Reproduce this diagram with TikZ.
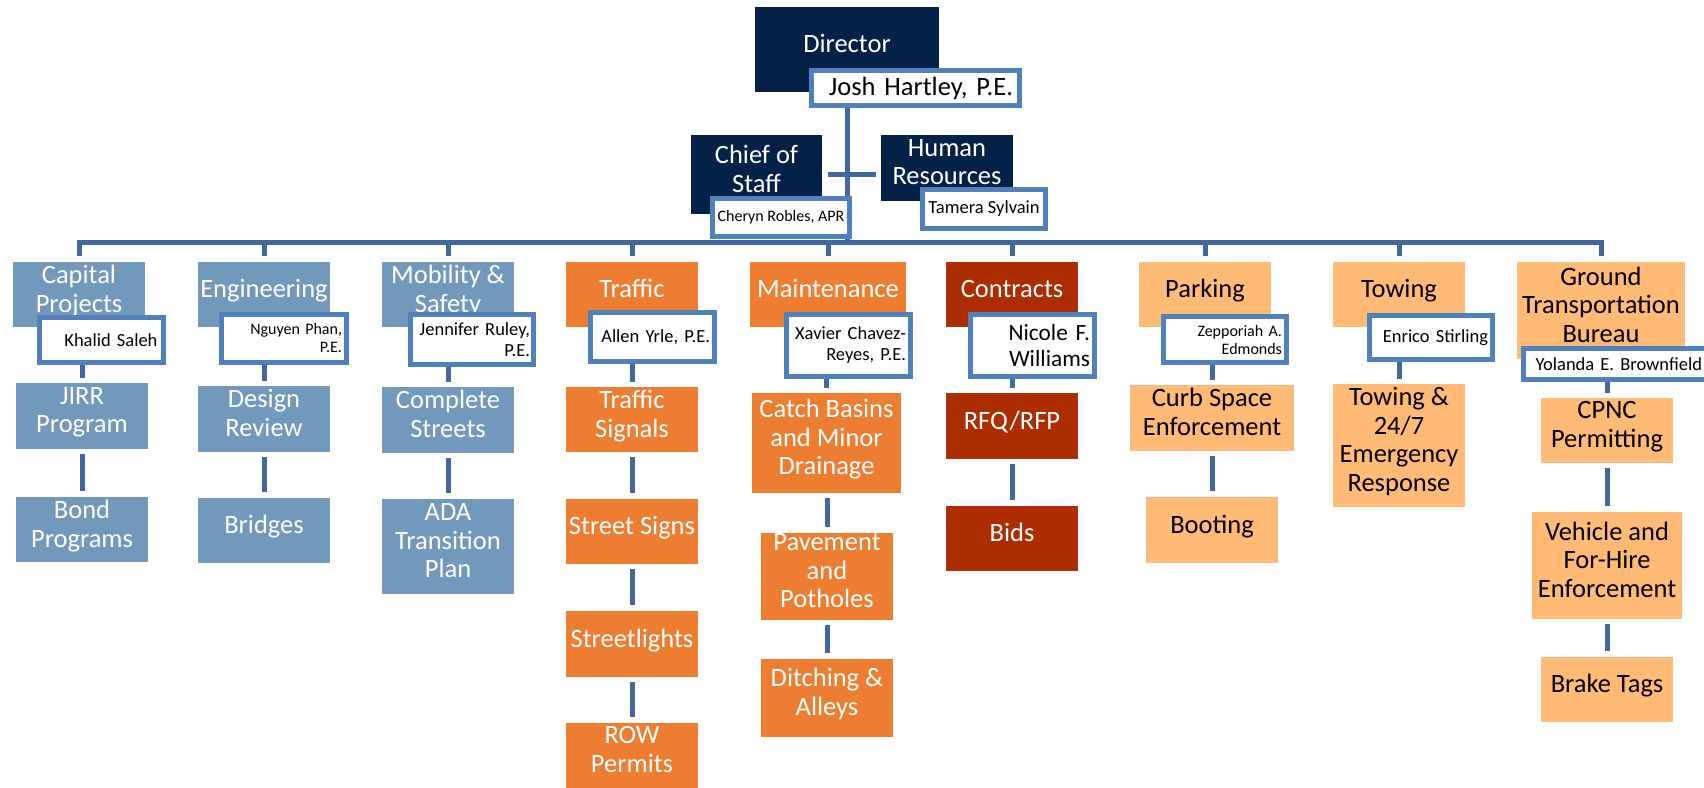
\documentclass[tikz,border=0pt]{standalone}
\usepackage{fontspec}
\setmainfont{Carlito}
\pgfdeclarelayer{background}
\pgfsetlayers{background,main}

\definecolor{navy}{RGB}{4,34,72}
\definecolor{steel}{RGB}{114,152,187}
\definecolor{traffico}{RGB}{237,125,49}
\definecolor{brick}{RGB}{173,45,2}
\definecolor{peach}{RGB}{255,186,117}
\definecolor{linkblue}{RGB}{65,104,158}
\definecolor{nameblue}{RGB}{80,129,189}

\newcommand{\unitfont}{\fontsize{26.5}{28.7}\selectfont}
\newcommand{\namesmall}{\fontsize{16}{18}\selectfont}
\newcommand{\namemid}{\fontsize{18.5}{21}\selectfont}
\newcommand{\namebig}{\fontsize{23.3}{26}\selectfont}

\begin{document}
\begin{tikzpicture}[x=1pt,y=-1pt,
	unit/.style={minimum width=132pt,minimum height=65pt,inner sep=0pt,align=center,font=\unitfont,text=white,
		execute at end node={\rule[-12pt]{0pt}{12pt}}},
	lead/.style={unit,fill=navy},
	civil/.style={unit,fill=steel},
	field/.style={unit,fill=traffico},
	purchasing/.style={unit,fill=brick},
	ops/.style={unit,fill=peach,text=black},
	head/.style={draw=nameblue,line width=5pt,fill=white,text=black,inner sep=0pt,minimum width=124pt,minimum height=45pt},
	link/.style={draw=linkblue,line width=5pt}]
			\useasboundingbox (0,0) rectangle (1704,787);
			\node[lead,minimum width=184pt,minimum height=85pt] (director) at (847,49.5) {Director};
			\node[head,minimum width=208pt,minimum height=35pt,font=\unitfont,text width=195pt,align=right] (josh) at (915.5,88) {Josh Hartley, P.E.};
			\node[lead,minimum width=131pt,minimum height=79pt] (chief) at (756.5,174.5) {Chief of\\Staff};
			\node[lead,minimum height=66pt] (hr) at (947,168) {Human\\Resources};
			\node[head,minimum width=137pt,minimum height=38pt,font=\namesmall] (cheryn) at (781,217.5) {Cheryn Robles, APR};
			\node[head,minimum width=123pt,minimum height=39pt,font=\namemid] (tamera) at (984,209) {Tamera Sylvain};

			\node[civil] (cap) at (79,294.5) {Capital\\Projects};
			\node[civil,minimum height=66pt] (jirr) at (82,416) {JIRR\\Program};
			\node[civil] (bond) at (82,529.5) {Bond\\Programs};
			\node[civil] (eng) at (264,294.5) {Engineering};
			\node[civil,minimum height=66pt] (design) at (264,419) {Design\\Review};
			\node[civil] (bridges) at (264,530.5) {Bridges};
			\node[civil] (mob) at (448,294.5) {Mobility \&\\Safety};
			\node[civil,minimum height=66pt] (complete) at (448,420) {Complete\\Streets};
			\node[civil,minimum height=95pt] (ada) at (448,546.5) {ADA\\Transition\\Plan};

			\node[field] (traffic) at (632,294.5) {Traffic};
			\node[field] (signals) at (632,419.5) {Traffic\\Signals};
			\node[field] (signs) at (632,531.5) {Street Signs};
			\node[field,minimum height=66pt] (lights) at (632,644) {Streetlights};
			\node[field] (row) at (632,755.5) {ROW\\Permits};
			\node[field,minimum width=156pt] (maint) at (828,294.5) {Maintenance};
			\node[field,minimum width=149pt,minimum height=100pt] (catch) at (826.5,443) {Catch Basins\\and Minor\\Drainage};
			\node[field,minimum height=87pt] (pave) at (827,576.5) {Pavement\\and\\Potholes};
			\node[field,minimum height=78pt] (ditch) at (827,698) {Ditching \&\\Alleys};

			\node[purchasing] (contracts) at (1012,294.5) {Contracts};
			\node[purchasing,minimum height=66pt] (rfq) at (1012,426) {RFQ/RFP};
			\node[purchasing] (bids) at (1012,538.5) {Bids};

			\node[ops] (parking) at (1205,294.5) {Parking};
			\node[ops,minimum width=164pt,minimum height=66pt] (curb) at (1212,418) {Curb Space\\Enforcement};
			\node[ops,minimum height=66pt] (booting) at (1212,530) {Booting};
			\node[ops] (towing) at (1399,294.5) {Towing};
			\node[ops,minimum height=123pt] (emerg) at (1399,445.5) {Towing \&\\24/7\\Emergency\\Response};
			\node[ops,minimum width=168pt,minimum height=97pt] (gtb) at (1601,310.5) {Ground\\Transportation\\Bureau};
			\node[ops] (cpnc) at (1607,430.5) {CPNC\\Permitting};
			\node[ops,minimum width=150pt,minimum height=107pt] (vehicle) at (1607,565.5) {Vehicle and\\For-Hire\\Enforcement};
			\node[ops] (brake) at (1607,689.5) {Brake Tags};

			\node[head,font=\namemid,text width=112pt,align=right] (khalid) at (101.5,340) {Khalid Saleh};
			\node[head,minimum width=125pt,minimum height=48pt,font=\namesmall,text width=116pt,align=right] (nguyen) at (284,338.5) {Nguyen Phan,\\P.E.};
			\node[head,minimum width=123pt,minimum height=50pt,font=\namemid,text width=116pt,align=right] (jennifer) at (472,339.5) {Jennifer Ruley,\\P.E.};
			\node[head,minimum height=49pt,font=\namemid,text width=115pt,align=right] (allen) at (652.5,337) {Allen Yrle, P.E.};
			\node[head,minimum height=62pt,font=\namemid,text width=115pt,align=right] (xavier) at (848.5,345.5) {Xavier Chavez-\\Reyes, P.E.};
			\node[head,minimum height=62pt,font=\namebig,text width=115pt,align=right] (nicole) at (1032.5,345.5) {Nicole F.\\Williams};
			\node[head,minimum width=123pt,minimum height=46pt,font=\namesmall,text width=114pt,align=right] (zepporiah) at (1225,339.5) {Zepporiah A.\\Edmonds};
			\node[head,minimum width=123pt,minimum height=44pt,font=\namemid,text width=114pt,align=right] (enrico) at (1431,337.5) {Enrico Stirling};
			\node[head,minimum width=198pt,minimum height=31pt,font=\namemid,text width=174pt,align=left] (yolanda) at (1622.5,364) {Yolanda E. Brownfield};

			\begin{pgfonlayer}{background}
			\coordinate (bus) at (847,242.5);
			\draw[link] (director |- josh.south) -- (bus);
			\draw[link,shorten <=6pt,shorten >=5pt] (chief.east) -- (chief.east -| hr.west);
			\draw[link] ([yshift=6pt]cap.north) |- (bus) -| ([yshift=6pt]gtb.north);
			\foreach \u in {eng,mob,traffic,maint,contracts,parking,towing}
			\draw[link] (bus -| \u.north) -- ([yshift=6pt]\u.north);
			\foreach \n/\c in {khalid/jirr,nguyen/design,jennifer/complete,allen/signals,xavier/catch,nicole/rfq,zepporiah/curb,enrico/emerg,yolanda/cpnc}
			\draw[link,shorten >=5pt] (\n.south -| \c.north) -- (\c.north);
			\foreach \a/\b in {jirr/bond,design/bridges,complete/ada,signals/signs,signs/lights,lights/row,catch/pave,pave/ditch,rfq/bids,curb/booting,cpnc/vehicle,vehicle/brake}
			\draw[link,shorten <=5pt,shorten >=6pt] (\a.south -| \b.north) -- (\b.north);
			\end{pgfonlayer}
			\end{tikzpicture}
\end{document}
